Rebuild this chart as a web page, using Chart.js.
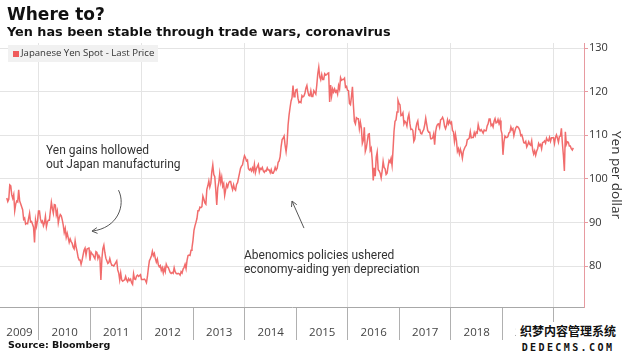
<!DOCTYPE html>
<html>
<head>
<meta charset="utf-8">
<script src="https://cdn.jsdelivr.net/npm/chart.js@4.4.1/dist/chart.umd.min.js"></script>
<style>
body { margin: 0; background: #fff; }
#wrap { position: relative; width: 626px; height: 354px; overflow: hidden; background: #fff; }
#c { position: absolute; left: 0; top: 0; }
.t { position: absolute; white-space: nowrap; line-height: 1; color: #222; }
#title { left: 7px; top: 4px; font: bold 17px "DejaVu Sans"; color: #111; }
#sub { left: 7px; top: 24px; font: bold 12.8px "DejaVu Sans"; color: #111; }
#legend { position: absolute; left: 8px; top: 45px; width: 150px; height: 17px; background: #f1f1f1; }
#legend i { position: absolute; left: 5px; top: 6px; width: 6px; height: 6px; background: #ef5b5b; }
#legend span { position: absolute; left: 13px; top: 3px; font: 9.6px "Open Sans"; color: #333; line-height: 1.1; white-space: nowrap; }
.note { font: 12px Roboto; color: #333; line-height: 13.5px; }
#src { left: 8px; top: 339px; font: bold 9.5px "DejaVu Sans"; color: #111; }
#wm { position: absolute; left: 516px; top: 322px; width: 104px; background: #fff; text-align: center; line-height: 1; }
#wm b { display: block; font: bold 12px "Noto Sans CJK SC"; color: #111; letter-spacing: 0px; }
#wm u { display: block; text-decoration: none; font: bold 10px "DejaVu Sans Mono"; color: #111; letter-spacing: 2.4px; margin-top: 3px; }
</style>
</head>
<body>
<div id="wrap">
  <canvas id="c" width="626" height="354"></canvas>
  <div class="t" id="title">Where to?</div>
  <div class="t" id="sub">Yen has been stable through trade wars, coronavirus</div>
  <div id="legend"><i></i><span>Japanese Yen Spot - Last Price</span></div>
  <div class="t note" style="left:46px;top:144px">Yen gains hollowed<br>out Japan manufacturing</div>
  <div class="t note" style="left:244px;top:249px">Abenomics policies ushered<br>economy-aiding yen depreciation</div>
  <div class="t" id="src">Source: Bloomberg</div>
  <div id="wm"><b>织梦内容管理系统</b><u>DEDECMS.COM</u></div>
</div>
<script>
// weekly closes of USD/JPY, one array per calendar year
const yen2009 = [95.6, 94.8, 95.3, 98.6, 98.4, 96.3, 95.5, 96.4, 92.7, 94.2, 94.9, 94.7, 97.5, 94.9, 94.3, 93.6, 92.9,
  90.7, 91.0, 89.6, 89.8, 89.7, 90.9, 92.1, 90.1, 90.2, 89.6, 88.9, 85.4, 90.5, 89.1, 90.4, 92.6]
const yen2010 = [92.6, 90.8, 90.0, 90.3, 89.2, 89.9, 91.4, 89.0, 90.1, 90.5,
  90.5, 92.6, 94.6, 93.2, 92.1, 94.1, 94.0, 91.7, 92.6, 89.9,
  91.1, 91.8, 91.5, 90.6, 89.4, 87.7, 88.6, 86.6, 87.5, 86.5,
  85.4, 86.2, 85.6, 85.2, 84.3, 83.9, 85.8, 84.3, 83.3, 82.0,
  81.4, 81.4, 80.4, 81.3, 82.5, 83.6, 84.1, 82.5, 83.9, 84.0, 84.3, 81.2]
const yen2011 = [83.2, 82.8, 82.6, 82.1, 81.7, 83.3, 83.1, 81.7, 82.4, 81.9,
  76.8, 81.6, 84.0, 84.8, 83.1, 81.8, 81.2, 80.6, 80.8, 81.7,
  80.8, 80.2, 80.2, 80.0, 80.4, 80.8, 81.2, 79.1, 78.4, 76.8,
  78.4, 76.8, 76.5, 76.7, 76.8, 77.6, 76.8, 76.4, 77.1, 76.7,
  77.0, 76.2, 75.8, 78.2, 77.0, 76.9, 77.7, 77.9, 77.6, 77.8, 78.0, 76.9]
const yen2012 = [76.9, 76.9, 77.0, 76.7, 76.2, 77.6, 79.6, 81.2, 81.7, 82.3,
  83.4, 82.4, 82.9, 81.7, 80.9, 81.6, 80.3, 79.8, 80.1, 79.0,
  79.6, 78.4, 79.5, 78.7, 80.4, 79.8, 79.7, 79.1, 78.5, 78.3,
  78.5, 78.3, 79.6, 78.7, 78.3, 78.2, 78.3, 78.2, 77.9, 78.7,
  78.4, 79.3, 79.7, 80.4, 79.4, 81.3, 82.4, 82.5, 82.4, 83.6, 84.2, 85.9]
const yen2013 = [88.2, 89.2, 90.0, 90.9, 92.7, 92.7, 93.5, 93.4, 93.6, 96.0,
  95.3, 94.5, 94.2, 97.6, 98.4, 99.5, 98.1, 99.0, 101.6, 103.2,
  101.0, 100.5, 97.5, 94.0, 97.9, 99.1, 101.2, 99.2, 100.4, 98.3,
  98.9, 96.2, 97.5, 98.7, 98.1, 99.0, 99.4, 99.4, 98.3, 97.5,
  98.6, 97.7, 97.4, 98.7, 99.1, 100.2, 101.3, 102.4, 102.9, 103.2, 104.4, 105.3]
const yen2014 = [104.8, 104.1, 104.3, 102.3, 102.0, 102.3, 101.8, 102.5, 101.8, 103.3,
  101.4, 102.3, 102.8, 103.3, 101.6, 102.4, 102.2, 102.6, 101.8, 101.5,
  101.9, 101.8, 102.5, 102.0, 102.0, 101.4, 102.1, 101.3, 101.3, 101.8,
  102.6, 102.0, 102.4, 103.8, 104.1, 105.1, 107.4, 109.0, 109.3, 109.8,
  107.7, 106.2, 108.1, 112.3, 114.6, 116.3, 117.8, 118.6, 121.4, 118.8, 119.5, 120.4]
const yen2015 = [120.5, 118.5, 117.5, 117.7, 117.5, 119.1, 118.8, 119.0, 119.6, 120.8,
  121.4, 120.0, 119.1, 119.0, 120.2, 118.9, 118.9, 120.2, 119.8, 119.4,
  121.5, 124.1, 125.6, 123.4, 122.7, 123.9, 122.8, 122.8, 124.1, 123.8,
  123.9, 124.2, 124.3, 117.6, 121.5, 119.0, 120.6, 119.9, 120.6, 119.9,
  120.2, 119.4, 121.4, 120.6, 123.2, 122.6, 122.8, 122.8, 123.1, 121.0, 121.2, 120.3]
const yen2016 = [120.2, 117.3, 117.0, 118.8, 121.1, 116.8, 113.2, 112.6, 114.0, 113.8,
  113.8, 111.5, 113.0, 111.7, 108.1, 108.8, 111.8, 106.3, 107.1, 108.6,
  110.2, 110.3, 106.5, 107.0, 104.2, 99.6, 102.5, 100.6, 104.9, 106.1,
  102.1, 101.8, 101.3, 100.2, 101.8, 104.0, 102.6, 102.3, 101.0, 101.3,
  102.9, 104.2, 103.8, 104.7, 103.1, 106.7, 110.9, 113.2, 113.5, 115.3, 118.0, 117.3]
const yen2017 = [117.0, 114.5, 114.6, 115.1, 112.6, 113.2, 112.9, 112.1, 114.0, 114.8,
  112.7, 111.3, 111.4, 111.1, 108.6, 109.1, 111.5, 112.7, 113.3, 111.3,
  111.3, 110.4, 110.3, 110.9, 111.3, 112.4, 113.9, 112.5, 111.1, 110.7,
  110.7, 109.2, 109.2, 109.4, 110.3, 107.8, 110.8, 112.0, 112.5, 112.6,
  111.8, 113.5, 113.7, 114.1, 113.5, 112.1, 111.5, 112.2, 113.5, 112.6, 113.3, 112.7]
const yen2018 = [113.0, 111.1, 110.8, 108.6, 110.2, 108.8, 106.3, 106.9, 105.7, 106.8,
  106.0, 104.7, 106.3, 106.9, 107.4, 107.7, 109.0, 109.1, 109.4, 110.8,
  109.4, 109.5, 109.5, 110.6, 109.9, 110.7, 110.5, 112.4, 111.4, 111.0,
  111.3, 110.9, 110.5, 111.2, 111.0, 111.0, 112.1, 112.6, 113.7, 113.7,
  112.2, 112.5, 111.9, 113.2, 113.8, 112.8, 112.9, 113.6, 112.7, 113.4, 111.2, 110.3]
const yen2019 = [105.5, 108.5, 109.8, 109.5, 109.5, 109.7, 110.5, 110.7, 111.9, 111.2,
  111.5, 109.9, 110.9, 111.7, 112.0, 111.9, 111.6, 111.1, 109.9, 110.1,
  109.3, 108.3, 108.2, 108.6, 107.3, 107.8, 108.5, 107.9, 107.7, 108.7,
  106.6, 105.7, 106.4, 105.4, 106.3, 106.9, 108.1, 107.6, 107.9, 106.9,
  108.3, 108.4, 108.7, 108.2, 109.3, 108.8, 108.7, 109.5, 108.6, 109.4, 109.4, 109.4]
const yen2020 = [108.1, 109.5, 110.1, 109.3, 108.4, 109.7, 109.8, 111.6, 108.1, 105.4,
  101.8, 110.8, 107.9, 108.5, 108.4, 107.5, 107.5, 106.9, 106.6, 107.1]

const years = [2009, 2010, 2011, 2012, 2013, 2014, 2015, 2016, 2017, 2018, 2019, 2020]
const firstWeek = [19, 0, 0, 0, 0, 0, 0, 0, 0, 0, 0, 0]
const yenByYear = [yen2009, yen2010, yen2011, yen2012, yen2013, yen2014, yen2015, yen2016, yen2017, yen2018, yen2019, yen2020]

const yearLabels = ['2009', '2010', '2011', '2012', '2013', '2014', '2015', '2016', '2017', '2018', '2019']
const yearTicks = [2010, 2011, 2012, 2013, 2014, 2015, 2016, 2017, 2018, 2019, 2020]
const yenTicks = [80, 90, 100, 110, 120, 130]

// turn the weekly arrays into x (decimal year) / y points
let points = []
years.forEach((yr, k) => {
    yenByYear[k].forEach((v, i) => {
        points.push({ x: yr + (firstWeek[k] + i + 0.5) / 52, y: v })
    })
})

// arrows of the two notes, in year / yen units
const curvedArrow = [[2011.544, 97.4], [2011.689, 94.0], [2011.534, 88.7], [2011.029, 88.0]]
const straightArrow = [[2015.146, 88.7], [2014.913, 94.9]]

function arrowHead(ctx, fx, fy, tx, ty) {
    let a = Math.atan2(ty - fy, tx - fx)
    ctx.beginPath()
    ctx.moveTo(tx - 6 * Math.cos(a - 0.5), ty - 6 * Math.sin(a - 0.5))
    ctx.lineTo(tx, ty)
    ctx.lineTo(tx - 6 * Math.cos(a + 0.5), ty - 6 * Math.sin(a + 0.5))
    ctx.stroke()
}

const extras = {
    id: 'extras',
    afterDraw(chart) {
        const ctx = chart.ctx
        const xs = chart.scales.x, ys = chart.scales.y
        ctx.save()
        // year names sit in the middle of each year
        ctx.font = '11.5px "Open Sans"'
        ctx.fillStyle = '#444'
        ctx.textAlign = 'center'
        ctx.textBaseline = 'middle'
        yearLabels.forEach(lab => {
            let a = Math.max(Number(lab), xs.min), b = Math.min(Number(lab) + 1, xs.max)
            ctx.fillText(lab, (xs.getPixelForValue(a) + xs.getPixelForValue(b)) / 2, 333)
        })
        // note arrows
        ctx.strokeStyle = '#555'
        ctx.lineWidth = 1
        let p = curvedArrow.map(c => [xs.getPixelForValue(c[0]), ys.getPixelForValue(c[1])])
        ctx.beginPath()
        ctx.moveTo(p[0][0], p[0][1])
        ctx.bezierCurveTo(p[1][0], p[1][1], p[2][0], p[2][1], p[3][0], p[3][1])
        ctx.stroke()
        arrowHead(ctx, p[2][0], p[2][1], p[3][0], p[3][1])
        let q = straightArrow.map(c => [xs.getPixelForValue(c[0]), ys.getPixelForValue(c[1])])
        ctx.beginPath()
        ctx.moveTo(q[0][0], q[0][1])
        ctx.lineTo(q[1][0], q[1][1])
        ctx.stroke()
        arrowHead(ctx, q[0][0], q[0][1], q[1][0], q[1][1])
        ctx.restore()
    }
}

new Chart(document.getElementById('c'), {
    type: 'line',
    data: {
        datasets: [{
            label: 'Japanese Yen Spot - Last Price',
            data: points,
            borderColor: 'rgba(240, 92, 92, 0.9)',
            borderWidth: 1.5,
            pointRadius: 0,
            tension: 0
        }]
    },
    options: {
        responsive: false,
        animation: false,
        devicePixelRatio: 1,
        layout: { padding: { top: 43, left: 0, right: 0, bottom: 0 } },
        plugins: { legend: { display: false }, tooltip: { enabled: false } },
        scales: {
            x: {
                type: 'linear',
                min: 2009.243,
                max: 2020.583,
                afterBuildTicks: s => { s.ticks = yearTicks.map(v => ({ value: v })) },
                afterFit: s => { s.height = 47 },
                ticks: { display: false },
                grid: {
                    color: c => (c.tick && c.tick.value % 2 === 0) ? '#e4e4e4' : 'rgba(0,0,0,0)',
                    tickColor: '#b0b0b0',
                    tickLength: 33,
                    lineWidth: 1
                },
                border: { color: '#a8a8a8' }
            },
            y: {
                position: 'right',
                min: 70.6,
                max: 131.15,
                afterBuildTicks: s => { s.ticks = yenTicks.map(v => ({ value: v })) },
                afterFit: s => { s.width = 42 },
                ticks: { font: { family: 'Open Sans', size: 11 }, color: '#333', padding: 1 },
                grid: { color: '#e4e4e4', tickColor: '#e79aa0', tickLength: 4 },
                border: { color: '#e79aa0' },
                title: { display: true, text: 'Yen per dollar', font: { family: 'Open Sans', size: 13.5 }, color: '#333', padding: 2 }
            }
        }
    },
    plugins: [extras]
})
</script>
</body>
</html>
